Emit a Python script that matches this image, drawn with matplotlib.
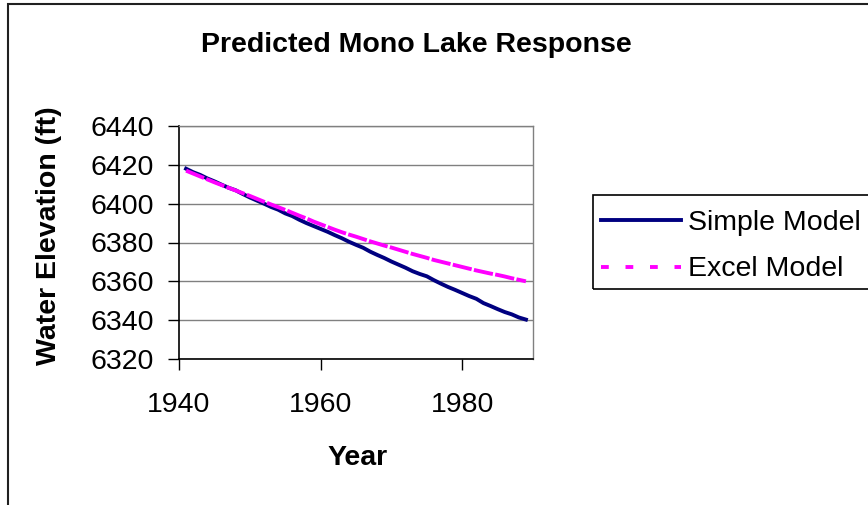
import numpy as np
import matplotlib
matplotlib.use("Agg")
import matplotlib.pyplot as plt
from matplotlib.lines import Line2D
from matplotlib.patches import Rectangle

plt.rcParams['font.family'] = ['Liberation Sans', 'DejaVu Sans']

years = list(range(1941, 1990))
simple_model = [
    6418.0, 6416.2, 6414.8, 6413.0, 6411.5, 6409.8, 6408.2, 6406.9, 6405.0, 6403.2,
    6401.6, 6400.0, 6398.3, 6396.9, 6395.0, 6393.6, 6391.7, 6390.0, 6388.5, 6387.0,
    6385.5, 6383.8, 6382.2, 6380.4, 6378.8, 6377.3, 6375.3, 6373.6, 6372.0, 6370.2,
    6368.6, 6367.0, 6365.2, 6363.8, 6362.6, 6360.6, 6358.8, 6357.1, 6355.6, 6354.0,
    6352.4, 6351.0, 6348.8, 6347.3, 6345.7, 6344.2, 6343.0, 6341.4, 6340.3,
]
excel_model = [
    6417.0, 6415.5, 6414.0, 6412.5, 6411.0, 6409.6, 6408.2, 6406.8, 6405.4, 6404.0,
    6402.5, 6401.0, 6399.6, 6398.2, 6396.8, 6395.3, 6393.8, 6392.4, 6390.8, 6389.4,
    6388.0, 6386.6, 6385.3, 6384.1, 6383.0, 6381.8, 6380.6, 6379.5, 6378.4, 6377.4,
    6376.3, 6375.2, 6374.1, 6373.1, 6372.1, 6371.0, 6370.1, 6369.2, 6368.3, 6367.4,
    6366.5, 6365.6, 6364.8, 6364.0, 6363.3, 6362.5, 6361.6, 6360.8, 6360.0,
]
x_ticks = [1940, 1960, 1980]
y_ticks = [6320, 6340, 6360, 6380, 6400, 6420, 6440]

W, H = 868, 505
fig = plt.figure(figsize=(W / 100, H / 100), dpi=100)

def fx(px):
    return px / W

def fy(py):
    return 1 - py / H

# outer chart border (runs off the bottom and right of the picture)
fig.patches.append(Rectangle((fx(8), fy(520)), fx(900) - fx(8), fy(4) - fy(520),
                             transform=fig.transFigure, fill=False,
                             ec='#202020', lw=1.5, clip_on=False))

ax = fig.add_axes([fx(179), fy(359), fx(533) - fx(179), fy(126) - fy(359)])
ax.plot(years, simple_model, color='#000080', lw=2.8, zorder=3)
ax.plot(years, excel_model, color='#FF00FF', lw=2.8, dashes=(5, 0.6), zorder=4)

ax.set_xlim(1940, 1990)
ax.set_ylim(6320, 6440)
ax.set_xticks(x_ticks)
ax.set_yticks(y_ticks)
ax.tick_params(axis='both', direction='out', length=8, width=1, labelsize=20.5)
ax.tick_params(axis='y', pad=10)
ax.tick_params(axis='x', pad=16)
ax.yaxis.grid(True, color='#808080', lw=1)
ax.set_axisbelow(True)
for side in ['left', 'bottom']:
    ax.spines[side].set_color('black')
    ax.spines[side].set_linewidth(1.2)
for side in ['top', 'right']:
    ax.spines[side].set_color('#808080')
    ax.spines[side].set_linewidth(1)

fig.text(fx(416), fy(45), 'Predicted Mono Lake Response', ha='center', va='center',
         fontsize=20.5, fontweight='bold')
fig.text(fx(49), fy(236), 'Water Elevation (ft)', ha='center', va='center',
         rotation=90, fontsize=20.5, fontweight='bold')
fig.text(fx(358), fy(458), 'Year', ha='center', va='center',
         fontsize=20.5, fontweight='bold')

# legend frame extends past the right edge
fig.patches.append(Rectangle((fx(593), fy(289)), fx(900) - fx(593), fy(195) - fy(289),
                             transform=fig.transFigure, fill=False,
                             ec='black', lw=1.2, clip_on=False))
handles = [Line2D([], [], color='#000080', lw=2.8),
           Line2D([], [], color='#FF00FF', lw=2.8, dashes=(2.0, 4.3))]
fig.legend(handles, ['Simple Model', 'Excel Model'], loc='upper left',
           bbox_to_anchor=(fx(601), fy(210)), frameon=False, fontsize=20.5,
           handlelength=2.8, handletextpad=0.25, labelspacing=0.72,
           borderpad=0, borderaxespad=0)

fig.savefig('out.png', dpi=100)
